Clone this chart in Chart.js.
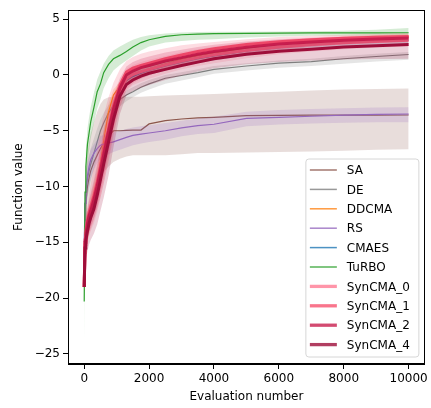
<!DOCTYPE html>
<html><head><meta charset="utf-8">
<script src="https://cdn.jsdelivr.net/npm/chart.js@4"></script>
<style>html,body{margin:0;padding:0;background:#fff;}canvas{display:block;}</style>
</head><body>
<canvas id="c" width="431" height="408"></canvas>
<script>
// Evaluation grid (shared x values)
const evals = [0, 25, 50, 100, 150, 200, 300, 400, 500, 600, 750, 900, 1100, 1300, 1500, 1750, 2000, 2500, 3000, 3500, 4000, 5000, 6000, 7000, 8000, 9000, 10000];
const xTicks = [0, 2000, 4000, 6000, 8000, 10000];
const yTicks = [-25, -20, -15, -10, -5, 0, 5];
const labels = ['SA', 'DE', 'DDCMA', 'RS', 'CMAES', 'TuRBO', 'SynCMA_0', 'SynCMA_1', 'SynCMA_2', 'SynCMA_4'];

const saMean  = [-17, -13, -11.5, -10, -9.2, -8.6, -7.8, -7.2, -6.6, -6.1, -5.5, -5.0, -5.0, -4.97, -4.95, -4.94, -4.39, -4.1, -3.95, -3.85, -3.8, -3.65, -3.62, -3.6, -3.6, -3.6, -3.59];
const saUpper = [-14, -10, -8.5, -7.0, -6.0, -5.3, -4.2, -3.3, -2.6, -2.2, -2.0, -1.95, -1.95, -1.95, -1.95, -1.95, -1.9, -1.85, -1.8, -1.75, -1.7, -1.6, -1.5, -1.4, -1.3, -1.25, -1.22];
const saLower = [-20, -16, -14.5, -13, -12.2, -11.5, -10.6, -9.8, -9.2, -8.7, -8.2, -7.8, -7.5, -7.3, -7.2, -7.2, -7.2, -7.2, -7.1, -7.0, -7.0, -6.95, -6.9, -6.85, -6.8, -6.7, -6.66];

const deMean  = [-16, -11.5, -10.2, -9.3, -8.6, -8.0, -7.0, -6.0, -5.0, -4.3, -3.4, -2.75, -2.2, -1.8, -1.5, -1.1, -0.8, -0.3, -0.05, 0.2, 0.5, 0.8, 1.05, 1.2, 1.45, 1.65, 1.83];
const deUpper = [-14, -9.5, -8.5, -7.8, -7.2, -6.6, -5.7, -4.8, -4.0, -3.4, -2.7, -2.2, -1.75, -1.4, -1.1, -0.75, -0.45, 0.0, 0.25, 0.5, 0.8, 1.05, 1.3, 1.45, 1.7, 1.9, 2.05];
const deLower = [-18, -13.5, -12, -11, -10.2, -9.5, -8.4, -7.3, -6.2, -5.4, -4.3, -3.5, -2.8, -2.35, -2.0, -1.6, -1.3, -0.8, -0.5, -0.2, 0.1, 0.4, 0.65, 0.8, 1.0, 1.2, 1.35];

const ddMean  = [-18.5, -16, -15, -14, -13.2, -12.0, -10.8, -9.6, -7.8, -5.9, -3.3, -1.8, -1.0, -0.5, -0.1, 0.25, 0.55, 1.0, 1.4, 1.7, 1.95, 2.4, 2.78, 3.02, 3.2, 3.35, 3.45];
const ddUpper = [-17.5, -15, -14, -13, -12.2, -11.0, -9.8, -8.6, -6.8, -4.9, -2.6, -1.3, -0.6, -0.15, 0.25, 0.6, 0.85, 1.3, 1.7, 1.95, 2.2, 2.65, 3.0, 3.25, 3.42, 3.55, 3.65];
const ddLower = [-19.5, -17, -16, -15, -14.2, -13.0, -11.8, -10.6, -8.8, -6.9, -4.2, -2.4, -1.4, -0.9, -0.5, -0.1, 0.2, 0.65, 1.05, 1.35, 1.65, 2.1, 2.5, 2.75, 2.95, 3.1, 3.2];

const rsMean  = [-15, -11.5, -10.5, -9.0, -8.2, -7.6, -7.0, -6.6, -6.3, -6.2, -6.1, -6.0, -5.8, -5.6, -5.42, -5.3, -5.2, -5.0, -4.75, -4.55, -4.42, -3.9, -3.8, -3.7, -3.6, -3.53, -3.5];
const rsUpper = [-13, -9.8, -8.8, -7.8, -7.2, -6.7, -6.2, -5.8, -5.5, -5.35, -5.25, -5.15, -5.0, -4.85, -4.7, -4.6, -4.5, -4.3, -4.1, -3.9, -3.75, -3.3, -3.15, -3.05, -2.98, -2.92, -2.9];
const rsLower = [-17, -13, -12, -10.8, -10, -9.3, -8.5, -7.9, -7.5, -7.3, -7.1, -6.9, -6.7, -6.5, -6.3, -6.15, -6.0, -5.8, -5.5, -5.3, -5.2, -4.6, -4.45, -4.35, -4.28, -4.25, -4.24];

const cmMean  = [-19, -15.5, -14.8, -13.8, -13.0, -12.5, -11.5, -10.3, -8.9, -7.5, -5.4, -3.4, -1.6, -0.5, -0.15, 0.15, 0.4, 0.8, 1.15, 1.45, 1.7, 2.15, 2.45, 2.7, 2.88, 3.0, 3.1];
const cmUpper = [-18.5, -14.8, -14.1, -13.1, -12.3, -11.8, -10.8, -9.6, -8.2, -6.8, -4.8, -2.9, -1.1, -0.1, 0.25, 0.55, 0.8, 1.2, 1.55, 1.85, 2.1, 2.5, 2.8, 3.05, 3.22, 3.35, 3.45];
const cmLower = [-19.5, -16.2, -15.5, -14.5, -13.7, -13.2, -12.2, -11.0, -9.6, -8.2, -6.0, -3.9, -2.1, -0.9, -0.55, -0.25, 0.0, 0.4, 0.75, 1.05, 1.3, 1.75, 2.1, 2.35, 2.55, 2.68, 2.78];

const tbMean  = [-20.3, -10.5, -8.2, -6.2, -5.2, -4.2, -2.9, -1.5, -0.8, 0.2, 0.94, 1.45, 1.75, 2.1, 2.5, 2.9, 3.15, 3.45, 3.6, 3.66, 3.7, 3.73, 3.75, 3.76, 3.77, 3.77, 3.78];
const tbUpper = [-18, -9, -6.8, -4.8, -3.8, -2.9, -1.6, -0.4, 0.3, 1.0, 1.7, 2.2, 2.55, 2.85, 3.15, 3.4, 3.55, 3.72, 3.8, 3.84, 3.86, 3.88, 3.9, 3.92, 3.95, 4.05, 4.2];
const tbLower = [-24, -12.5, -10, -8, -6.8, -5.7, -4.3, -3.0, -2.2, -1.2, -0.3, 0.4, 0.9, 1.3, 1.7, 2.2, 2.55, 2.9, 3.05, 3.15, 3.2, 3.35, 3.45, 3.5, 3.52, 3.52, 3.5];

const s0Mean  = [-19, -15.2, -14.5, -13.6, -12.9, -12.4, -11.5, -10.3, -8.9, -7.5, -5.4, -3.4, -1.5, -0.35, 0.05, 0.3, 0.5, 0.9, 1.25, 1.55, 1.8, 2.2, 2.5, 2.72, 2.88, 3.0, 3.1];
const s0Upper = [-18.4, -13.9, -13.2, -12.2, -11.4, -10.8, -9.7, -8.3, -6.8, -5.3, -3.6, -2.0, -0.5, 0.55, 0.9, 1.15, 1.35, 1.7, 2.05, 2.3, 2.55, 2.9, 3.15, 3.35, 3.48, 3.58, 3.65];
const s0Lower = [-19.5, -16.4, -15.8, -15.0, -14.4, -14.0, -13.3, -12.3, -11.0, -9.7, -7.5, -5.2, -2.9, -1.45, -0.9, -0.6, -0.35, 0.1, 0.5, 0.8, 1.05, 1.5, 1.85, 2.1, 2.3, 2.45, 2.55];

const s1Mean  = [-19, -14.8, -14.0, -13.0, -12.3, -11.8, -10.8, -9.6, -8.2, -6.8, -4.8, -2.8, -0.9, 0.25, 0.6, 0.85, 1.05, 1.45, 1.8, 2.1, 2.35, 2.72, 2.98, 3.15, 3.28, 3.38, 3.45];
const s1Upper = [-18, -13.5, -12.8, -11.8, -10.8, -9.8, -8.2, -6.6, -5.0, -3.6, -2.0, -0.7, 0.5, 1.25, 1.6, 1.9, 2.1, 2.4, 2.65, 2.82, 2.95, 3.2, 3.4, 3.52, 3.6, 3.7, 3.76];
const s1Lower = [-19.5, -16, -15.5, -14.8, -14.2, -13.8, -13, -12, -11, -9.8, -7.8, -5.5, -2.9, -1.3, -0.75, -0.35, -0.05, 0.45, 0.85, 1.2, 1.45, 1.85, 2.2, 2.5, 2.7, 2.85, 2.95];

const s2Mean  = [-19, -15, -14.3, -13.3, -12.6, -12.2, -11.2, -10.0, -8.6, -7.2, -5.1, -3.1, -1.2, 0.0, 0.35, 0.65, 0.85, 1.25, 1.55, 1.85, 2.1, 2.48, 2.78, 2.96, 3.1, 3.22, 3.31];
const s2Upper = [-18.5, -13.8, -13.0, -12.0, -11.2, -10.6, -9.4, -8.0, -6.5, -5.0, -3.4, -1.8, -0.3, 0.75, 1.15, 1.45, 1.65, 2.0, 2.25, 2.5, 2.7, 3.0, 3.2, 3.32, 3.42, 3.5, 3.58];
const s2Lower = [-19.3, -16, -15.5, -14.6, -14, -13.6, -12.8, -11.8, -10.5, -9.2, -7.0, -4.8, -2.4, -0.95, -0.45, -0.1, 0.15, 0.6, 0.9, 1.2, 1.45, 1.9, 2.3, 2.55, 2.75, 2.9, 3.0];

const s4Mean  = [-19, -15.5, -14.8, -14, -13.3, -12.8, -12, -10.8, -9.4, -8.0, -6.0, -4.0, -1.9, -0.85, -0.45, -0.1, 0.15, 0.5, 0.85, 1.15, 1.45, 1.85, 2.12, 2.3, 2.5, 2.62, 2.72];
const s4Upper = [-18.5, -14.5, -13.8, -12.9, -12.1, -11.5, -10.5, -9.2, -7.7, -6.2, -4.3, -2.5, -0.8, 0.15, 0.45, 0.75, 0.95, 1.3, 1.6, 1.85, 2.1, 2.45, 2.67, 2.85, 3.0, 3.1, 3.2];
const s4Lower = [-19.5, -17, -16.5, -15.8, -15.2, -14.8, -14.2, -13.4, -12.2, -11.0, -9.0, -6.5, -3.5, -1.85, -1.45, -1.15, -0.9, -0.45, -0.05, 0.3, 0.6, 0.95, 1.15, 1.3, 1.38, 1.42, 1.45];

// styles
const colors = ['#8c564b', '#7f7f7f', '#ff7f0e', '#9467bd', '#1f77b4', '#2ca02c', '#ff7b93', '#f7526f', '#c81e4e', '#9e0e3a'];
const widths = [1.2, 1.2, 1.2, 1.2, 1.2, 1.2, 3, 3, 3, 3];
const means  = [saMean, deMean, ddMean, rsMean, cmMean, tbMean, s0Mean, s1Mean, s2Mean, s4Mean];
const uppers = [saUpper, deUpper, ddUpper, rsUpper, cmUpper, tbUpper, s0Upper, s1Upper, s2Upper, s4Upper];
const lowers = [saLower, deLower, ddLower, rsLower, cmLower, tbLower, s0Lower, s1Lower, s2Lower, s4Lower];

function pts(arr) { return evals.map((x, i) => ({x: x, y: arr[i]})); }
function rgba(hex, a) {
  const n = parseInt(hex.slice(1), 16);
  return 'rgba(' + ((n >> 16) & 255) + ',' + ((n >> 8) & 255) + ',' + (n & 255) + ',' + a + ')';
}

const datasets = [];
const N = labels.length;
labels.forEach((lab, k) => {
  const ord = (N - k) * 3;
  datasets.push({label: lab + ' lo', data: pts(lowers[k]), borderWidth: 0, pointRadius: 0, fill: false, order: ord, borderColor: 'rgba(0,0,0,0)'});
  datasets.push({label: lab + ' hi', data: pts(uppers[k]), borderWidth: 0, pointRadius: 0, fill: '-1', order: ord - 1, borderColor: 'rgba(0,0,0,0)', backgroundColor: rgba(colors[k], 0.2)});
  datasets.push({label: lab, data: pts(means[k]), borderColor: colors[k], borderWidth: widths[k], pointRadius: 0, fill: false, order: ord - 2, showInLegend: true, tension: 0});
});

const FONT = 'DejaVu Sans';
const minus = v => String(v).replace('-', '\u2212');

const framePlugin = {
  id: 'frameLegend',
  afterDraw(chart) {
    const ctx = chart.ctx, a = chart.chartArea;
    ctx.save();
    ctx.strokeStyle = '#000'; ctx.lineWidth = 1;
    ctx.strokeRect(Math.round(a.left) + 0.5, Math.round(a.top) + 0.5, Math.round(a.right - a.left) - 1, Math.round(a.bottom - a.top) - 1);
    // legend
    const items = chart.data.datasets.filter(d => d.showInLegend);
    const rowH = 19.4, w = 113, h = 198;
    const x1 = a.right - 6, y2 = a.bottom - 7;
    const x0 = x1 - w, y0 = y2 - h;
    const r = 3;
    ctx.beginPath();
    ctx.moveTo(x0 + r, y0); ctx.lineTo(x1 - r, y0); ctx.arcTo(x1, y0, x1, y0 + r, r);
    ctx.lineTo(x1, y2 - r); ctx.arcTo(x1, y2, x1 - r, y2, r);
    ctx.lineTo(x0 + r, y2); ctx.arcTo(x0, y2, x0, y2 - r, r);
    ctx.lineTo(x0, y0 + r); ctx.arcTo(x0, y0, x0 + r, y0, r);
    ctx.closePath();
    ctx.fillStyle = 'rgba(255,255,255,0.8)'; ctx.fill();
    ctx.strokeStyle = '#d6d6d6'; ctx.lineWidth = 1; ctx.stroke();
    ctx.font = '12px "' + FONT + '"';
    ctx.textBaseline = 'middle'; ctx.textAlign = 'left';
    items.forEach((d, i) => {
      const y = y0 + 11 + i * rowH;
      ctx.globalAlpha = 0.8;
      ctx.strokeStyle = d.borderColor; ctx.lineWidth = d.borderWidth + 0.3;
      ctx.beginPath(); ctx.moveTo(x0 + 4, y); ctx.lineTo(x0 + 31, y); ctx.stroke();
      ctx.globalAlpha = 1;
      ctx.fillStyle = '#000';
      ctx.fillText(d.label, x0 + 41, y + 1);
    });
    ctx.restore();
  }
};

new Chart(document.getElementById('c'), {
  type: 'line',
  data: {datasets: datasets},
  options: {
    responsive: false, animation: false,
    layout: {padding: {left: 0, right: 6, top: 8, bottom: 0}},
    plugins: {legend: {display: false}, tooltip: {enabled: false}, filler: {propagate: false}},
    elements: {line: {tension: 0}},
    scales: {
      x: {
        type: 'linear', min: -500, max: 10500,
        afterFit: s => { s.height = 44; },
        afterBuildTicks: s => { s.ticks = xTicks.map(v => ({value: v})); },
        grid: {display: true, drawOnChartArea: false, drawTicks: true, tickLength: 5, color: '#000'},
        border: {display: true, color: '#000'},
        ticks: {color: '#000', font: {family: FONT, size: 12}, padding: 3, maxRotation: 0, callback: v => minus(v)},
        title: {display: true, text: 'Evaluation number', color: '#000', font: {family: FONT, size: 12}, padding: {top: 4, bottom: 4}}
      },
      y: {
        type: 'linear', min: -25.9, max: 5.8,
        afterFit: s => { s.width = 68; },
        afterBuildTicks: s => { s.ticks = yTicks.map(v => ({value: v})); },
        grid: {display: true, drawOnChartArea: false, drawTicks: true, tickLength: 5, color: '#000'},
        border: {display: true, color: '#000'},
        ticks: {color: '#000', font: {family: FONT, size: 12}, padding: 3, callback: v => minus(v)},
        title: {display: true, text: 'Function value', color: '#000', font: {family: FONT, size: 12}, padding: {top: 12, bottom: 4}}
      }
    }
  },
  plugins: [framePlugin]
});
</script>
</body></html>
